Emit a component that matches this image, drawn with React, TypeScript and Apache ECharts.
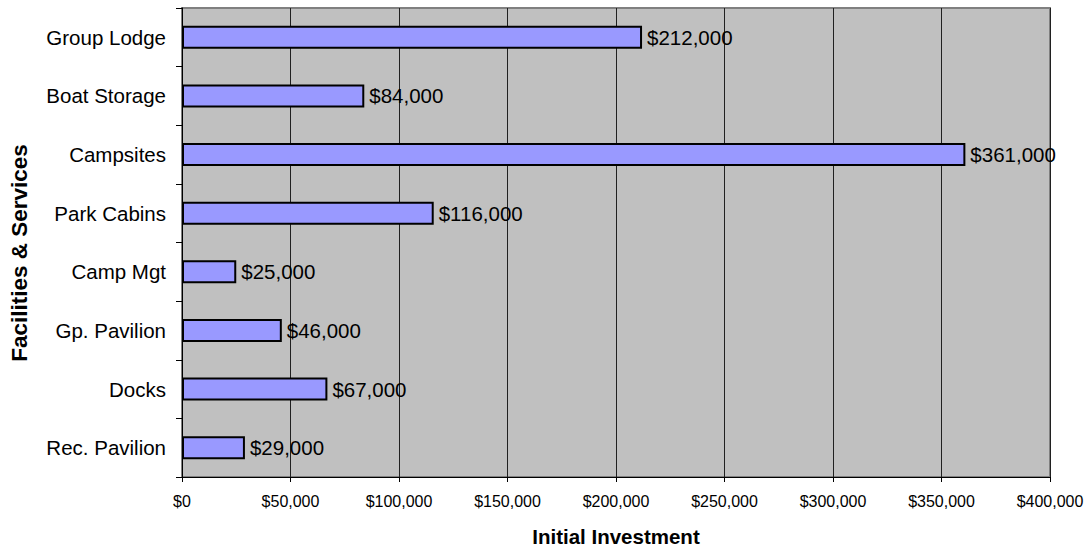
import React, { useEffect, useRef } from "react";
import * as echarts from "echarts";

const categories = [
  "Group Lodge",
  "Boat Storage",
  "Campsites",
  "Park Cabins",
  "Camp Mgt",
  "Gp. Pavilion",
  "Docks",
  "Rec. Pavilion",
];
const investments = [212000, 84000, 361000, 116000, 25000, 46000, 67000, 29000];
const xTicks = { min: 0, max: 400000, interval: 50000 };
const xTitle = "Initial Investment";
const yTitle = "Facilities & Services";

const FONT = "'Liberation Sans', Arial, Helvetica, sans-serif";
const money = (v: number) => "$" + Number(v).toLocaleString("en-US");

export default function App() {
  const ref = useRef<HTMLDivElement>(null);
  useEffect(() => {
    if (!ref.current) return;
    const chart = echarts.init(ref.current, undefined, { renderer: "svg" });
    chart.setOption({
      animation: false,
      backgroundColor: "#ffffff",
      textStyle: { fontFamily: FONT },
      grid: {
        left: 182,
        right: 41,
        top: 8,
        bottom: 69,
        containLabel: false,
        show: true,
        backgroundColor: "#C0C0C0",
        borderColor: "#808080",
        borderWidth: 2,
      },
      graphic: [
        {
          type: "text",
          x: 19,
          y: 253,
          rotation: Math.PI / 2,
          style: {
            text: yTitle,
            fontFamily: FONT,
            fontSize: 22.5,
            fontWeight: "bold",
            fill: "#000",
            align: "center",
            verticalAlign: "middle",
          },
        },
      ],
      xAxis: {
        type: "value",
        min: xTicks.min,
        max: xTicks.max,
        interval: xTicks.interval,
        name: xTitle,
        nameLocation: "middle",
        nameGap: 49,
        nameTextStyle: { fontFamily: FONT, fontSize: 20.5, fontWeight: "bold", color: "#000" },
        axisLine: { show: true, lineStyle: { color: "#000", width: 1 } },
        axisTick: { show: true, length: 5, lineStyle: { color: "#000" } },
        axisLabel: {
          formatter: (v: number) => money(v),
          fontFamily: FONT,
          fontSize: 16,
          color: "#000",
          margin: 16,
        },
        splitLine: { show: true, lineStyle: { color: "#202020", width: 1 } },
      },
      yAxis: {
        type: "category",
        data: categories,
        inverse: true,
        axisLine: { show: true, lineStyle: { color: "#000", width: 1 } },
        axisTick: { show: true, length: 6, alignWithLabel: false, lineStyle: { color: "#000" } },
        axisLabel: { fontFamily: FONT, fontSize: 20.5, color: "#000", margin: 16 },
        splitLine: { show: false },
      },
      series: [
        {
          type: "bar",
          data: investments,
          barWidth: 23,
          itemStyle: { color: "#9999FF", borderColor: "#000", borderWidth: 2 },
          label: {
            show: true,
            position: "right",
            distance: 5,
            formatter: (p: any) => money(p.value),
            fontFamily: FONT,
            fontSize: 20.5,
            color: "#000",
          },
        },
      ],
    });
    return () => chart.dispose();
  }, []);
  return (
    <div
      ref={ref}
      style={{ position: "fixed", left: 0, top: 0, width: 1091, height: 552 }}
    />
  );
}
